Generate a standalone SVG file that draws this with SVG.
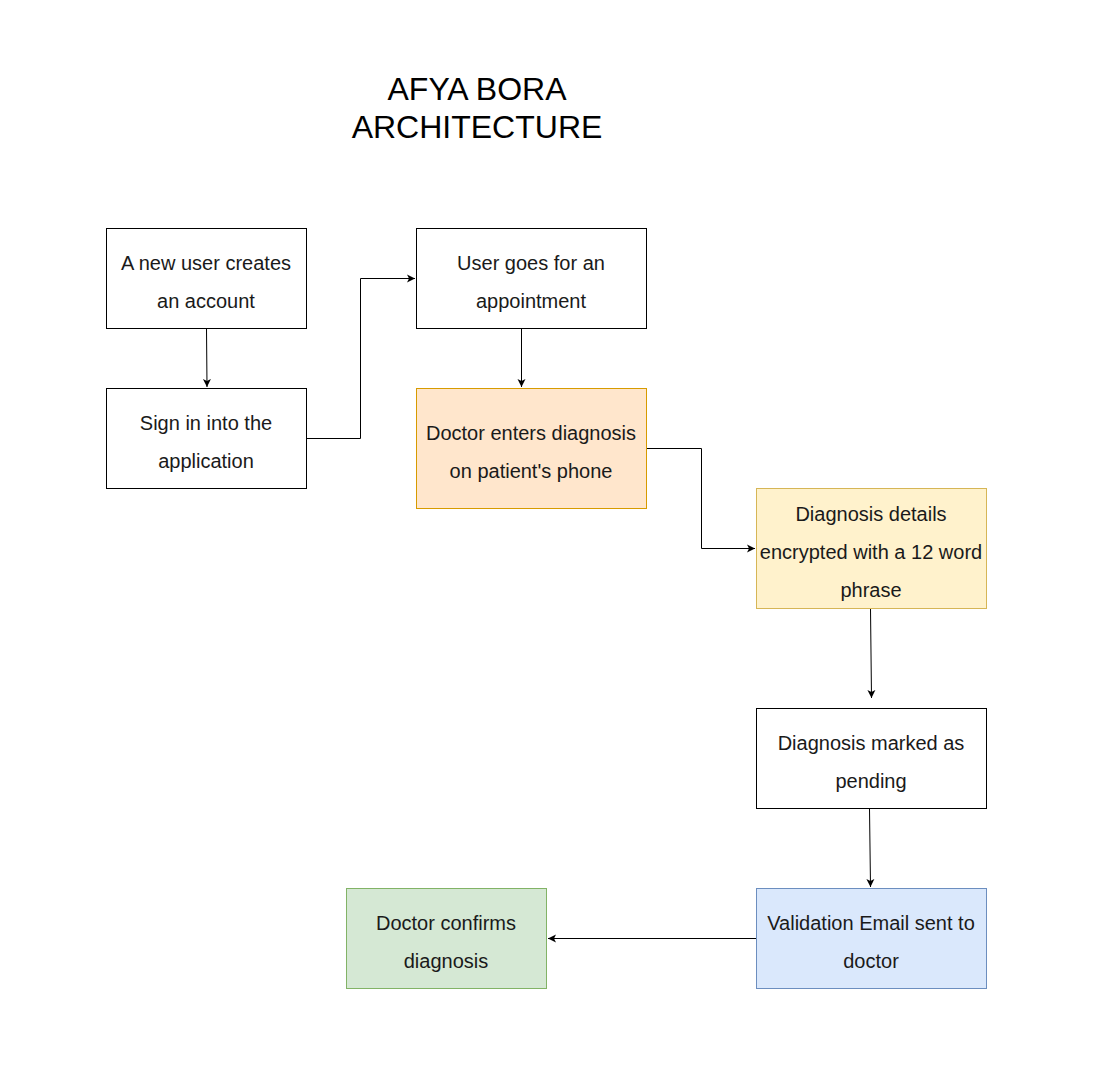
<svg xmlns="http://www.w3.org/2000/svg" width="1118" height="1078" viewBox="0 0 1118 1078">
<style>
.box{stroke-width:1;}
.plain{fill:#ffffff;stroke:#000000;}
.t{font-family:"Liberation Sans",Arial,Helvetica,sans-serif;font-size:20px;fill:#1a1a1a;text-anchor:middle;}
.title{font-family:"Liberation Sans",Arial,Helvetica,sans-serif;font-size:32px;fill:#000000;text-anchor:middle;}
.c{fill:none;stroke:#000000;stroke-width:1;}
</style>
<defs>
<marker id="arr" markerUnits="userSpaceOnUse" markerWidth="10" markerHeight="10" refX="8" refY="4" orient="auto" viewBox="0 0 10 8">
<path d="M0,0 L8,4 L0,8 L2,4 Z" fill="#000000"/>
</marker>
</defs>
<rect width="1118" height="1078" fill="#ffffff"/>
<g id="title">
<text class="title" x="477" y="100">AFYA BORA</text>
<text class="title" x="477" y="138">ARCHITECTURE</text>
</g>
<g id="connectors">
<path class="c" d="M206.5,328.5 L207,387" marker-end="url(#arr)"/>
<path class="c" d="M306.5,438.5 L360.5,438.5 L360.5,278.5 L415,278.5" marker-end="url(#arr)"/>
<path class="c" d="M521.5,328.5 L521.5,387" marker-end="url(#arr)"/>
<path class="c" d="M646.5,448.5 L701.5,448.5 L701.5,548.5 L755,548.5" marker-end="url(#arr)"/>
<path class="c" d="M870.5,608.5 L871.5,698" marker-end="url(#arr)"/>
<path class="c" d="M869.5,808.5 L870.5,887" marker-end="url(#arr)"/>
<path class="c" d="M756.5,938.5 L548,938.5" marker-end="url(#arr)"/>
</g>
<g id="n1">
<rect class="box plain" x="106.5" y="228.5" width="200" height="100"/>
<text class="t" x="206" y="270">A new user creates</text>
<text class="t" x="206" y="308">an account</text>
</g>
<g id="n2">
<rect class="box plain" x="106.5" y="388.5" width="200" height="100"/>
<text class="t" x="206" y="430">Sign in into the</text>
<text class="t" x="206" y="468">application</text>
</g>
<g id="n3">
<rect class="box plain" x="416.5" y="228.5" width="230" height="100"/>
<text class="t" x="531" y="270">User goes for an</text>
<text class="t" x="531" y="308">appointment</text>
</g>
<g id="n4">
<rect class="box" x="416.5" y="388.5" width="230" height="120" fill="#ffe6cc" stroke="#d79b00"/>
<text class="t" x="531" y="440">Doctor enters diagnosis</text>
<text class="t" x="531" y="478">on patient's phone</text>
</g>
<g id="n5">
<rect class="box" x="756.5" y="488.5" width="230" height="120" fill="#fff2cc" stroke="#d6b656"/>
<text class="t" x="871" y="521">Diagnosis details</text>
<text class="t" x="871" y="559">encrypted with a 12 word</text>
<text class="t" x="871" y="597">phrase</text>
</g>
<g id="n6">
<rect class="box plain" x="756.5" y="708.5" width="230" height="100"/>
<text class="t" x="871" y="750">Diagnosis marked as</text>
<text class="t" x="871" y="788">pending</text>
</g>
<g id="n7">
<rect class="box" x="756.5" y="888.5" width="230" height="100" fill="#dae8fc" stroke="#6c8ebf"/>
<text class="t" x="871" y="930">Validation Email sent to</text>
<text class="t" x="871" y="968">doctor</text>
</g>
<g id="n8">
<rect class="box" x="346.5" y="888.5" width="200" height="100" fill="#d5e8d4" stroke="#82b366"/>
<text class="t" x="446" y="930">Doctor confirms</text>
<text class="t" x="446" y="968">diagnosis</text>
</g>
</svg>
